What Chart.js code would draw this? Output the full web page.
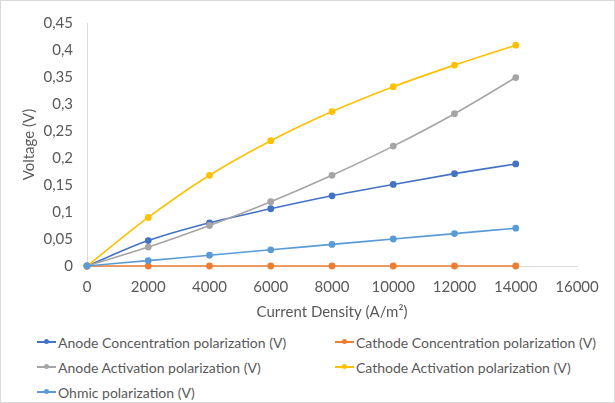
<!DOCTYPE html>
<html>
<head>
<meta charset="utf-8">
<script src="https://cdn.jsdelivr.net/npm/chart.js@4.4.1/dist/chart.umd.min.js"></script>
<style>
    html, body { margin: 0; padding: 0; background: #fff; }
    .frame {
        position: relative;
        width: 613px;
        height: 401px;
        border: 1px solid #d9d9d9;
        font-family: Lato, "Liberation Sans", sans-serif;
    }
    .chartBox { position: absolute; left: -1px; top: -1px; width: 615px; height: 325px; }
    .legend {
        position: absolute;
        left: 36px;
        top: 331px;
        display: grid;
        grid-template-columns: 298px 270px;
        row-gap: 5px;
        margin: 0; padding: 0;
        list-style: none;
        font-size: 14px;
        color: #595959;
    }
    .legend li { display: flex; align-items: center; height: 20px; white-space: nowrap; }
    .legend .mark { position: relative; width: 19px; height: 2px; margin-right: 2px; }
    .legend .mark::after {
        content: ""; position: absolute; left: 7px; top: -2px;
        width: 5px; height: 5px; border-radius: 50%; background: inherit;
    }
</style>
</head>
<body>
<div class="frame">
    <div class="chartBox"><canvas id="polChart"></canvas></div>
    <ul class="legend"></ul>
</div>
<script>
// ----------- Data ----------------- //
const currentDensity = [0, 2000, 4000, 6000, 8000, 10000, 12000, 14000];

const anodeConcentration = [0, 0.047, 0.080, 0.106, 0.130, 0.151, 0.171, 0.189];
const cathodeConcentration = [0, 0, 0, 0, 0, 0, 0, 0];
const anodeActivation = [0, 0.035, 0.075, 0.119, 0.168, 0.222, 0.282, 0.349];
const cathodeActivation = [0, 0.090, 0.168, 0.232, 0.286, 0.332, 0.372, 0.409];
const ohmic = [0, 0.010, 0.020, 0.030, 0.040, 0.050, 0.060, 0.070];

const seriesNames = [
    "Anode Concentration polarization (V)",
    "Cathode Concentration polarization (V)",
    "Anode Activation polarization (V)",
    "Cathode Activation polarization (V)",
    "Ohmic polarization (V)"
];
const seriesValues = [anodeConcentration, cathodeConcentration, anodeActivation, cathodeActivation, ohmic];
const seriesColors = ["#4472C4", "#ED7D31", "#A5A5A5", "#FFC000", "#5B9BD5"];

const datasets = seriesNames.map((name, i) => ({
    label: name,
    data: currentDensity.map((x, j) => ({x: x, y: seriesValues[i][j]})),
    borderColor: seriesColors[i],
    backgroundColor: seriesColors[i],
    borderWidth: 1.6,
    pointRadius: 2.6,
    pointHoverRadius: 3,
    cubicInterpolationMode: "monotone",
    fill: false,
    clip: false,
    order: 5 - i
}));

const tickColor = "#595959";
const tickFont = {family: "Lato, 'Liberation Sans', sans-serif", size: 15};

new Chart(document.getElementById("polChart"), {
    type: "line",
    data: {datasets: datasets},
    options: {
        responsive: true,
        maintainAspectRatio: false,
        animation: false,
        layout: {padding: {left: 0, right: 38, top: 18, bottom: 0}},
        scales: {
            x: {
                type: "linear",
                min: 0,
                max: 16000,
                ticks: {
                    stepSize: 2000,
                    color: tickColor,
                    font: tickFont,
                    padding: 12,
                    maxRotation: 0,
                    callback: v => String(v)
                },
                grid: {display: false, drawTicks: false},
                border: {color: "#d9d9d9", width: 1},
                title: {
                    display: true,
                    text: "Current Density (A/m²)",
                    color: tickColor,
                    font: tickFont,
                    padding: {top: 3}
                },
                afterFit: s => { s.height = 59; }
            },
            y: {
                min: 0,
                max: 0.45,
                ticks: {
                    stepSize: 0.05,
                    color: tickColor,
                    font: tickFont,
                    padding: 14,
                    callback: v => String(Math.round(v * 100) / 100).replace(".", ",")
                },
                grid: {display: false, drawTicks: false},
                border: {color: "#d9d9d9", width: 1},
                title: {
                    display: true,
                    text: "Voltage (V)",
                    color: tickColor,
                    font: tickFont,
                    padding: {top: 20, bottom: 0}
                },
                afterFit: s => { s.width = 87; }
            }
        },
        plugins: {
            legend: {display: false},
            tooltip: {enabled: false}
        }
    }
});

// ----------- Legend ----------------- //
const ul = document.querySelector(".legend");
seriesNames.forEach((name, i) => {
    let li = document.createElement("li");
    li.innerHTML = `<span class="mark" style="background:${seriesColors[i]}"></span>${name}`;
    ul.appendChild(li);
});
</script>
</body>
</html>
